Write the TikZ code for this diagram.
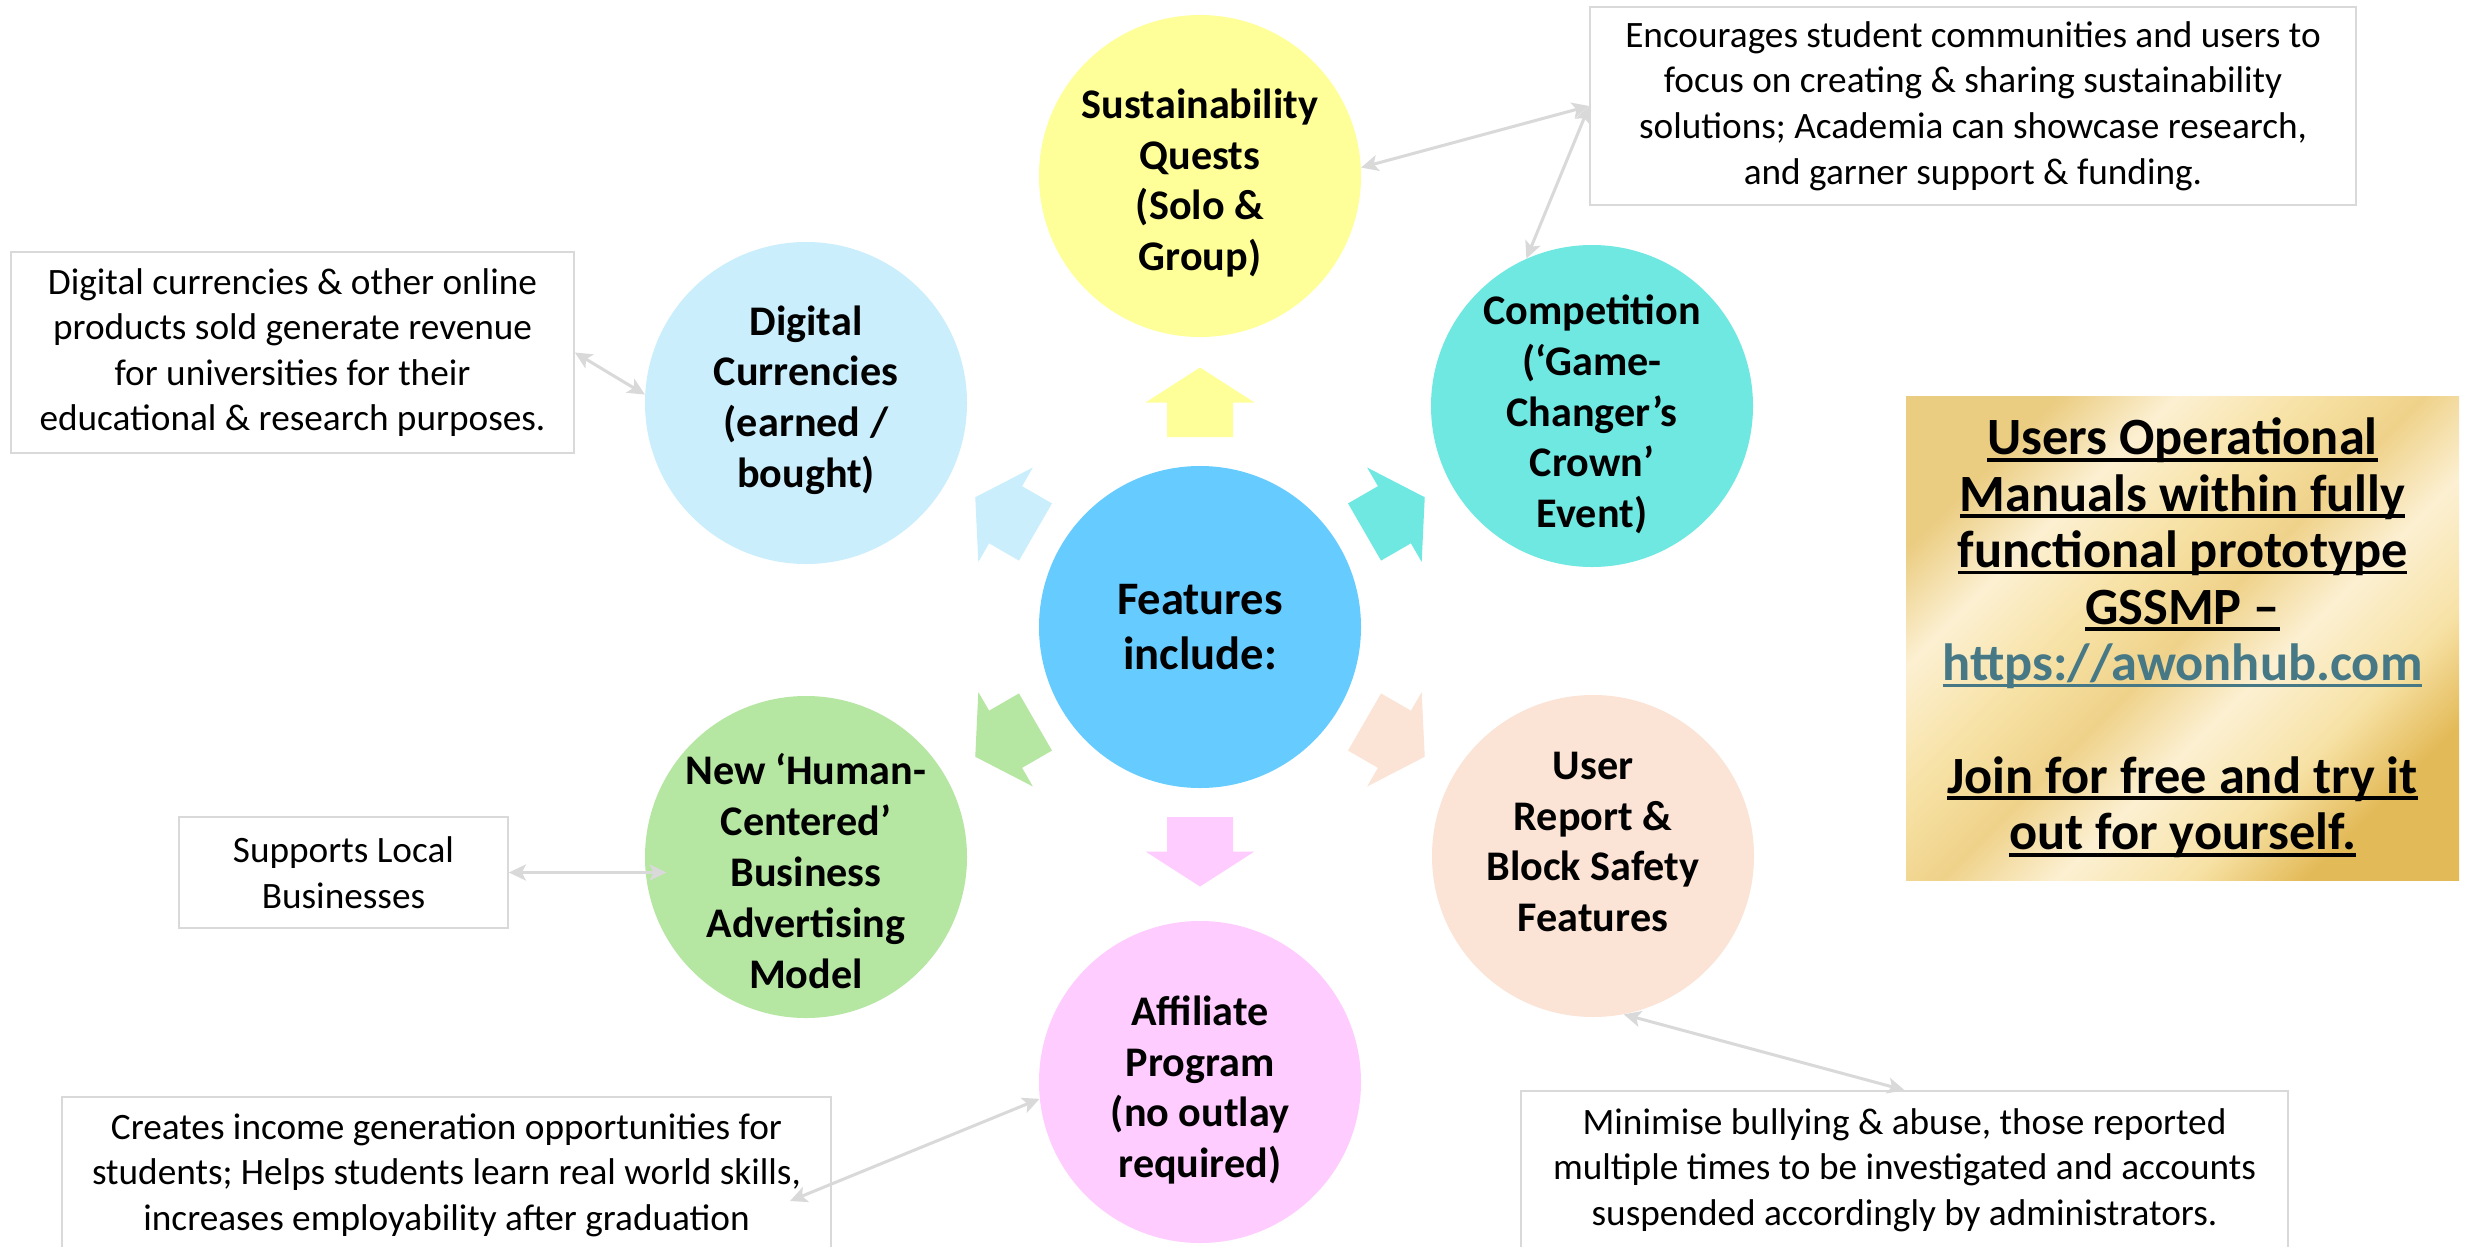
\documentclass[tikz,border=0pt]{standalone}
\usepackage{fontspec}
\setmainfont{Carlito}
\usetikzlibrary{arrows.meta,positioning}

\definecolor{quest-fill}{HTML}{FFFF99}
\definecolor{comp-fill}{HTML}{6FE8E1}
\definecolor{report-fill}{HTML}{FBE3D6}
\definecolor{affil-fill}{HTML}{FFCCFF}
\definecolor{model-fill}{HTML}{B5E6A2}
\definecolor{curr-fill}{HTML}{CAEEFB}
\definecolor{hub-fill}{HTML}{66CCFF}
\definecolor{link-gray}{HTML}{D9D9D9}
\definecolor{url-teal}{HTML}{467886}
\definecolor{goldA}{HTML}{EBCD82}
\definecolor{goldB}{HTML}{FCF0D2}
\definecolor{goldC}{HTML}{F7E2A6}
\definecolor{goldD}{HTML}{EFD28A}
\definecolor{goldE}{HTML}{E3BA58}

\pgfdeclarehorizontalshading{goldleaf}{100bp}{color(0bp)=(goldA); color(25bp)=(goldA); color(33bp)=(goldB); color(42bp)=(goldC); color(50bp)=(goldD); color(58bp)=(goldB); color(67bp)=(goldC); color(75bp)=(goldE); color(100bp)=(goldE)}

\newcommand\goldul[1]{\leavevmode\setbox0\hbox{#1}\rlap{\rule[-0.13em]{\wd0}{0.07em}}\box0}

\tikzset{
	feature/.style={circle,minimum size=64.4mm,inner sep=0pt},
	feature-text/.style={align=center,inner sep=0pt,font=\bfseries\fontsize{24}{28.9}\selectfont},
	note/.style={draw=link-gray,line width=0.35mm,inner sep=0pt,align=center,font=\fontsize{21.2}{25.9}\selectfont},
	link/.style={draw=link-gray,line width=0.6mm,{Stealth[length=3.4mm,width=3.2mm,inset=0.8mm]}-{Stealth[length=3.4mm,width=3.2mm,inset=0.8mm]}},
	blockarrow/.pic={\path[pic actions] (190,-33) -- (224.5,-33) -- (224.5,-54.5) -- (259.5,0) -- (224.5,54.5) -- (224.5,33) -- (190,33) -- cycle;}
}

\begin{document}
\begin{tikzpicture}[x=0.2mm,y=-0.2mm]
	
	\useasboundingbox[fill=white] (0,0) rectangle (2465,1247);
	\clip (0,0) rectangle (2465,1247);
	
	\coordinate (hub) at (1200,627);
	
	\node [feature,fill=hub-fill] (features) at (hub) {};
	\node [feature-text,font=\bfseries\fontsize{26.5}{31.3}\selectfont] (features-text) at (features) {Features\\include:};
	
	%%%%%%%%%%%%%%%%%%%%%%%%%%%%%%%%%%%%%%%%%%%%%%%%%%%%%%
	
	\pic [rotate=90,fill=quest-fill] at (hub) {blockarrow};
	\pic [rotate=30,fill=comp-fill] at (hub) {blockarrow};
	\pic [rotate=-30,fill=report-fill] at (hub) {blockarrow};
	\pic [rotate=-90,fill=affil-fill] at (hub) {blockarrow};
	\pic [rotate=210,fill=model-fill] at (hub) {blockarrow};
	\pic [rotate=150,fill=curr-fill] at (hub) {blockarrow};
	
	%%%%%%%%%%%%%%%%%%%%%%%%%%%%%%%%%%%%%%%%%%%%%%%%%%%%%%
	
	\node [feature,fill=quest-fill] (quests) at (1200,176) {};
	\node [feature-text] (quests-text) at ([yshift=-1.4mm]quests) {Sustainability\\Quests\\(Solo \&\\Group)};
	
	\node [feature,fill=comp-fill] (competition) at (1592,406) {};
	\node [feature-text] (competition-text) at ([yshift=-1.7mm]competition) {Competition\\(‘Game-\\Changer’s\\Crown’\\Event)};
	
	\node [feature,fill=report-fill] (safety) at (1593,856) {};
	\node [feature-text] (safety-text) at ([yshift=2.8mm]safety) {User\\Report \&\\Block Safety\\Features};
	
	\node [feature,fill=affil-fill] (affiliate) at (1200,1082) {};
	\node [feature-text] (affiliate-text) at ([yshift=-1.6mm]affiliate) {Affiliate\\Program\\(no outlay\\required)};
	
	\node [feature,fill=model-fill] (human-model) at (806,857) {};
	\node [feature-text] (human-model-text) at ([yshift=-2.8mm]human-model) {New ‘Human-\\Centered’\\Business\\Advertising\\Model};
	
	\node [feature,fill=curr-fill] (currencies) at (806,403) {};
	\node [feature-text] (currencies-text) at ([yshift=0.6mm]currencies) {Digital\\Currencies\\(earned /\\bought)};
	
	%%%%%%%%%%%%%%%%%%%%%%%%%%%%%%%%%%%%%%%%%%%%%%%%%%%%%%
	
	\node [note,minimum width=153.2mm,minimum height=39.6mm] (quests-note) at (1973,106) {Encourages student communities and users to\\focus on creating \& sharing sustainability\\solutions; Academia can showcase research,\\and garner support \& funding.};
	\node [note,minimum width=112.6mm,minimum height=40.2mm] (currencies-note) at (292.5,352.5) {Digital currencies \& other online\\products sold generate revenue\\for universities for their\\educational \& research purposes.};
	\node [note,minimum width=65.8mm,minimum height=22.2mm] (local-note) at (343.5,872.5) {Supports Local\\Businesses};
	\node [note,minimum width=153.8mm,minimum height=31.2mm] (income-note) at (446.5,1175) {Creates income generation opportunities for\\students; Helps students learn real world skills,\\increases employability after graduation};
	\node [note,minimum width=153.4mm,minimum height=31.6mm] (safety-note) at (1904.5,1170) {Minimise bullying \& abuse, those reported\\multiple times to be investigated and accounts\\suspended accordingly by administrators.};
		\coordinate (income-end) at (790,1201);
	
	%%%%%%%%%%%%%%%%%%%%%%%%%%%%%%%%%%%%%%%%%%%%%%%%%%%%%%
	
	\draw [link] (quests.3) -- (quests-note.west);
	\draw [link] (quests-note.west) -- (competition.114);
	\draw [link] (currencies-note.east) -- (currencies.177);
	\draw [link,shorten >=-4.4mm] (local-note.east) -- (local-note.east -| human-model.west);
	\draw [link] (income-end) -- (affiliate.186);
	\draw [link] (safety.281) -- (safety-note.north);
	
	%%%%%%%%%%%%%%%%%%%%%%%%%%%%%%%%%%%%%%%%%%%%%%%%%%%%%%
	
	\node [shading=goldleaf,shading angle=-45,minimum width=110.6mm,minimum height=96.8mm,inner sep=0pt,align=center,font=\bfseries\fontsize{29.8}{32.1}\selectfont] (manuals) at (2182.5,638)
	{\goldul{Users Operational}\\\goldul{Manuals within fully}\\\goldul{functional prototype}\\\goldul{GSSMP –}\\\textcolor{url-teal}{\goldul{https://awonhub.com}}\\[32.1pt]\goldul{Join for free and try it}\\\goldul{out for yourself.}};
	
\end{tikzpicture}
\end{document}
